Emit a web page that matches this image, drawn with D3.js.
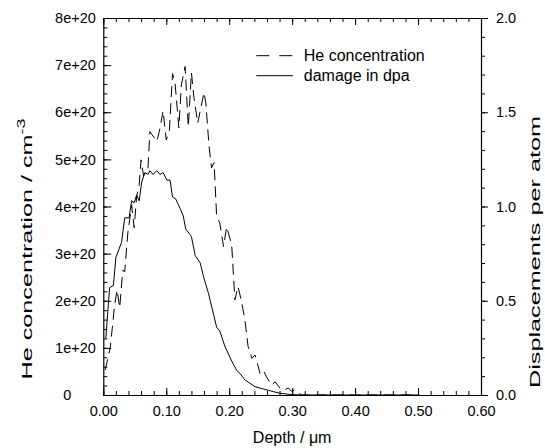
<!DOCTYPE html>
<html>
<head>
<meta charset="utf-8">
<script src="https://cdn.jsdelivr.net/npm/d3@7"></script>
<style>
  body { margin: 0; background: #fff; }
  svg text { font-family: "Liberation Sans", Arial, sans-serif; fill: #000; }
  .axis path, .axis line { stroke: #000; }
</style>
</head>
<body>
<div id="chart"></div>
<script>
// depth in um, He concentration in units of 1e20 cm^-3
var depthHe = [0.003, 0.011, 0.018, 0.022, 0.026, 0.031, 0.034, 0.039, 0.045, 0.049, 0.053, 0.057,
  0.060, 0.064, 0.067, 0.071, 0.074, 0.085, 0.089, 0.095, 0.100, 0.105, 0.110, 0.114, 0.120,
  0.124, 0.130, 0.135, 0.140, 0.144, 0.150, 0.160, 0.163, 0.168, 0.172, 0.176, 0.180, 0.185,
  0.191, 0.196, 0.204, 0.209, 0.214, 0.219, 0.225, 0.230, 0.236, 0.241, 0.244, 0.249, 0.254,
  0.259, 0.267, 0.273, 0.281, 0.288, 0.294, 0.299, 0.304, 0.310, 0.315, 0.500];
var heConc = [0.53, 1.00, 1.91, 2.23, 1.85, 2.65, 2.61, 3.44, 4.03, 3.55, 4.22, 4.46,
  4.99, 4.65, 4.73, 4.82, 5.59, 5.38, 5.59, 6.03, 5.41, 5.61, 6.82, 6.62, 5.67,
  6.58, 6.97, 5.69, 6.84, 6.31, 5.77, 6.42, 6.19, 5.27, 4.82, 4.93, 3.80, 3.65,
  3.15, 3.57, 3.18, 2.02, 2.30, 2.02, 1.59, 1.03, 0.78, 0.85, 0.71, 0.46, 0.53,
  0.39, 0.21, 0.28, 0.14, 0.11, 0.15, 0.08, 0.11, 0.04, 0, 0];

// damage in displacements per atom (right axis)
var depthDpa = [0.004, 0.010, 0.016, 0.020, 0.029, 0.034, 0.041, 0.045, 0.049, 0.053, 0.057, 0.061,
  0.066, 0.071, 0.074, 0.079, 0.085, 0.090, 0.095, 0.101, 0.106, 0.110, 0.115, 0.122, 0.127,
  0.131, 0.138, 0.140, 0.146, 0.154, 0.159, 0.167, 0.175, 0.180, 0.185, 0.193, 0.204, 0.212,
  0.217, 0.225, 0.241, 0.254, 0.270, 0.281, 0.296, 0.312, 0.500];
var dpaVals = [0.30, 0.57, 0.58, 0.73, 0.81, 0.94, 0.94, 1.03, 1.02, 1.06, 1.03, 1.13,
  1.18, 1.17, 1.19, 1.17, 1.19, 1.17, 1.18, 1.14, 1.14, 1.05, 1.04, 0.99, 0.95,
  0.88, 0.85, 0.84, 0.74, 0.70, 0.63, 0.54, 0.43, 0.36, 0.34, 0.26, 0.18, 0.13,
  0.115, 0.08, 0.044, 0.032, 0.018, 0.009, 0.003, 0, 0];

var xTicks = [0, 0.1, 0.2, 0.3, 0.4, 0.5, 0.6];
var leftTicks = [0, 1, 2, 3, 4, 5, 6, 7, 8];
var rightTicks = [0, 0.5, 1.0, 1.5, 2.0];
var legendLabels = ['He concentration', 'damage in dpa'];

var W = 545, H = 448,
  margin = {top: 18, right: 64, bottom: 53, left: 103.3},
  width = W - margin.left - margin.right,
  height = H - margin.top - margin.bottom;

var svg = d3.select('#chart').append('svg')
  .attr('width', W)
  .attr('height', H);

var g = svg.append('g')
  .attr('transform', 'translate(' + margin.left + ',' + margin.top + ')');

var x = d3.scaleLinear().domain([0, 0.6]).range([0, width]);
var yL = d3.scaleLinear().domain([0, 8]).range([height, 0]);
var yR = d3.scaleLinear().domain([0, 2]).range([height, 0]);

function minor(lo, hi, step) {
  return d3.range(Math.round((hi - lo) / step) + 1).map(function (i) { return lo + i * step; });
}

// minor ticks first, then major ones with labels
function drawAxis(axisFn, scale, transform, minorVals, minorLen, majorVals, majorLen, fmt, pad) {
  g.append('g').attr('class', 'axis').attr('transform', transform)
    .call(axisFn(scale).tickValues(minorVals).tickSize(minorLen).tickFormat(''))
    .call(function (s) { s.select('.domain').remove(); });
  var a = g.append('g').attr('class', 'axis').attr('transform', transform)
    .call(axisFn(scale).tickValues(majorVals).tickSizeInner(majorLen).tickSizeOuter(0)
      .tickPadding(pad).tickFormat(fmt));
  a.select('.domain').attr('stroke-width', 1.2);
  a.selectAll('text').style('font-size', '14.5px');
  return a;
}

// bottom
var bottomAx = drawAxis(d3.axisTop, x, 'translate(0,' + height + ')', minor(0, 0.6, 0.02), 4,
  xTicks, 7, d3.format('.2f'), 0);
bottomAx.selectAll('text').attr('y', 21).attr('dy', '0');
// top
drawAxis(d3.axisBottom, x, 'translate(0,0)', minor(0, 0.6, 0.02), 4, xTicks, 7, '', 0);
// left
var leftAx = drawAxis(d3.axisRight, yL, 'translate(0,0)', minor(0, 8, 0.2), 4, leftTicks, 8,
  function (d) { return d === 0 ? '0' : d + 'e+20'; }, 0);
leftAx.selectAll('text').attr('x', -7.5).attr('text-anchor', 'end')
  .filter(function (d) { return d === 0; }).attr('x', -32);
// right
drawAxis(d3.axisRight, yR, 'translate(' + width + ',0)', minor(0, 2, 0.1), 4, rightTicks, 7,
  d3.format('.1f'), 8);

// curves
var heLine = d3.line()
  .x(function (d, i) { return x(depthHe[i]); })
  .y(function (d) { return yL(d); });

var dpaLine = d3.line()
  .x(function (d, i) { return x(depthDpa[i]); })
  .y(function (d) { return yR(d); });

g.append('path')
  .datum(heConc)
  .attr('d', heLine)
  .attr('fill', 'none')
  .attr('stroke', '#000')
  .attr('stroke-width', 1)
  .attr('stroke-dasharray', '11,6');

g.append('path')
  .datum(dpaVals)
  .attr('d', dpaLine)
  .attr('fill', 'none')
  .attr('stroke', '#000')
  .attr('stroke-width', 1);

// legend
var legend = g.append('g').attr('transform', 'translate(' + (x(0.243)) + ',' + (yL(7.2)) + ')');
legend.selectAll('line').data(legendLabels).enter().append('line')
  .attr('x1', 0).attr('x2', 36.6)
  .attr('y1', function (d, i) { return i * 20; })
  .attr('y2', function (d, i) { return i * 20; })
  .attr('stroke', '#000')
  .attr('stroke-width', 1)
  .attr('stroke-dasharray', function (d, i) { return i === 0 ? '13,10' : null; });
legend.selectAll('text').data(legendLabels).enter().append('text')
  .attr('x', 47.5)
  .attr('y', function (d, i) { return i * 20; })
  .attr('dy', '0.35em')
  .style('font-size', '16px')
  .text(function (d) { return d; });

// axis titles
svg.append('text')
  .attr('x', margin.left + width / 2)
  .attr('y', 443)
  .attr('text-anchor', 'middle')
  .style('font-size', '16px')
  .text('Depth / \u03bcm');

var lt = svg.append('text')
  .attr('transform', 'translate(32,379.5) rotate(-90)')
  .attr('textLength', 261)
  .attr('lengthAdjust', 'spacingAndGlyphs')
  .style('font-size', '15.5px');
lt.append('tspan').text('He concentration / cm');
lt.append('tspan').attr('dy', -7).style('font-size', '11px').text('-3');

svg.append('text')
  .attr('transform', 'translate(540,388) rotate(-90)')
  .attr('textLength', 272)
  .attr('lengthAdjust', 'spacingAndGlyphs')
  .style('font-size', '15.5px')
  .text('Displacements per atom');
</script>
</body>
</html>
